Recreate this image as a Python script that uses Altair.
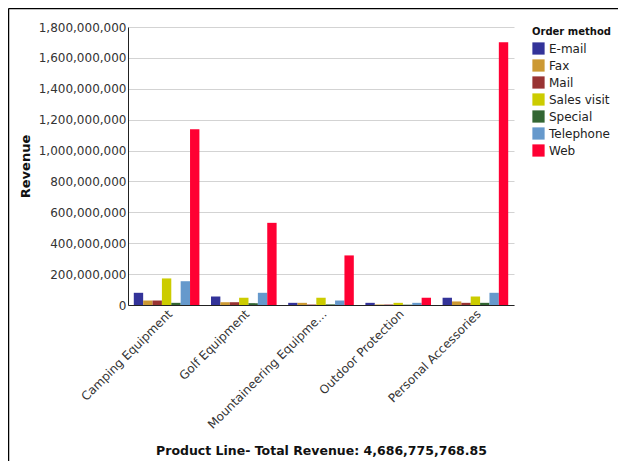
import altair as alt
import pandas as pd

categories = ["Camping Equipment", "Golf Equipment", "Mountaineering Equipment",
              "Outdoor Protection", "Personal Accessories"]
methods = ["E-mail", "Fax", "Mail", "Sales visit", "Special", "Telephone", "Web"]
colors = ["#333399", "#CC9933", "#993333", "#CCCC00", "#336633", "#6699CC", "#FF0033"]

# revenue (millions) per order method, one list per product line
camping = [79, 29, 29, 172, 14, 154, 1138]
golf = [55, 18, 18, 47, 12, 79, 532]
mountaineering = [14, 14, 3, 47, 4, 29, 321]
outdoor = [14, 3, 3, 14, 2, 14, 47]
personal = [47, 23, 14, 55, 14, 79, 1702]

y_ticks = [0, 2e8, 4e8, 6e8, 8e8, 1e9, 1.2e9, 1.4e9, 1.6e9, 1.8e9]

series = [camping, golf, mountaineering, outdoor, personal]
rows = []
for cat, vals in zip(categories, series):
    for m, v in zip(methods, vals):
        rows.append({"Product Line": cat, "Order method": m, "Revenue": v * 1e6})
df = pd.DataFrame(rows)

font = "DejaVu Sans"

bars = alt.Chart(df).mark_bar().encode(
    x=alt.X("Product Line:N", sort=categories,
            scale=alt.Scale(paddingInner=0.15, paddingOuter=0.075),
            axis=alt.Axis(title="Product Line- Total Revenue:  4,686,775,768.85",
                          labelAngle=-45, labelAlign="right", labelBaseline="top",
                          labelPadding=3, ticks=False, tickSize=0,
                          labelExpr="datum.label == 'Mountaineering Equipment' ? 'Mountaineering Equipme...' : datum.label",
                          titlePadding=14)),
    xOffset=alt.XOffset("Order method:N", sort=methods,
                        scale=alt.Scale(paddingInner=0, paddingOuter=0)),
    y=alt.Y("Revenue:Q", scale=alt.Scale(domain=[0, 1.8e9], nice=False),
            axis=alt.Axis(title="Revenue", format=",d", values=y_ticks,
                          labelOverlap=False,
                          ticks=False, tickSize=0, labelPadding=2, titlePadding=6)),
    color=alt.Color("Order method:N", sort=methods,
                    scale=alt.Scale(domain=methods, range=colors),
                    legend=alt.Legend(title="Order method", symbolType="square",
                                      symbolSize=150, symbolStrokeWidth=0,
                                      symbolOpacity=1, rowPadding=4,
                                      offset=18, labelFontSize=12,
                                      titleFontSize=10, titleLimit=300)),
)

frame_top = alt.Chart(alt.Data(values=[{}])).mark_rule(color="#000000", strokeWidth=1.5).encode(
    x=alt.value(-119.5), x2=alt.value(520), y=alt.value(-18.5))
frame_left = alt.Chart(alt.Data(values=[{}])).mark_rule(color="#000000", strokeWidth=1.5).encode(
    x=alt.value(-119.5), y=alt.value(-18.5), y2=alt.value(460))

chart = alt.layer(bars, frame_top, frame_left).properties(
    width=386, height=278, background="white",
    autosize=alt.AutoSizeParams(type="none"),
    padding={"left": 120, "top": 19, "right": 104, "bottom": 156}
).configure_view(stroke=None).configure_axis(
    labelFont=font, titleFont=font, labelFontSize=12, titleFontSize=13,
    labelColor="#333333", titleColor="#111111", titleFontWeight="bold",
    domainColor="#222222", gridColor="#d3d3d3", labelLimit=300
).configure_axisX(grid=False, titleFontSize=12.5).configure_legend(
    labelFont=font, titleFont=font, labelColor="#222222", titleColor="#111111",
    titleFontWeight="bold"
)

chart.save("out.html", embed_options={"renderer": "svg", "actions": False})
